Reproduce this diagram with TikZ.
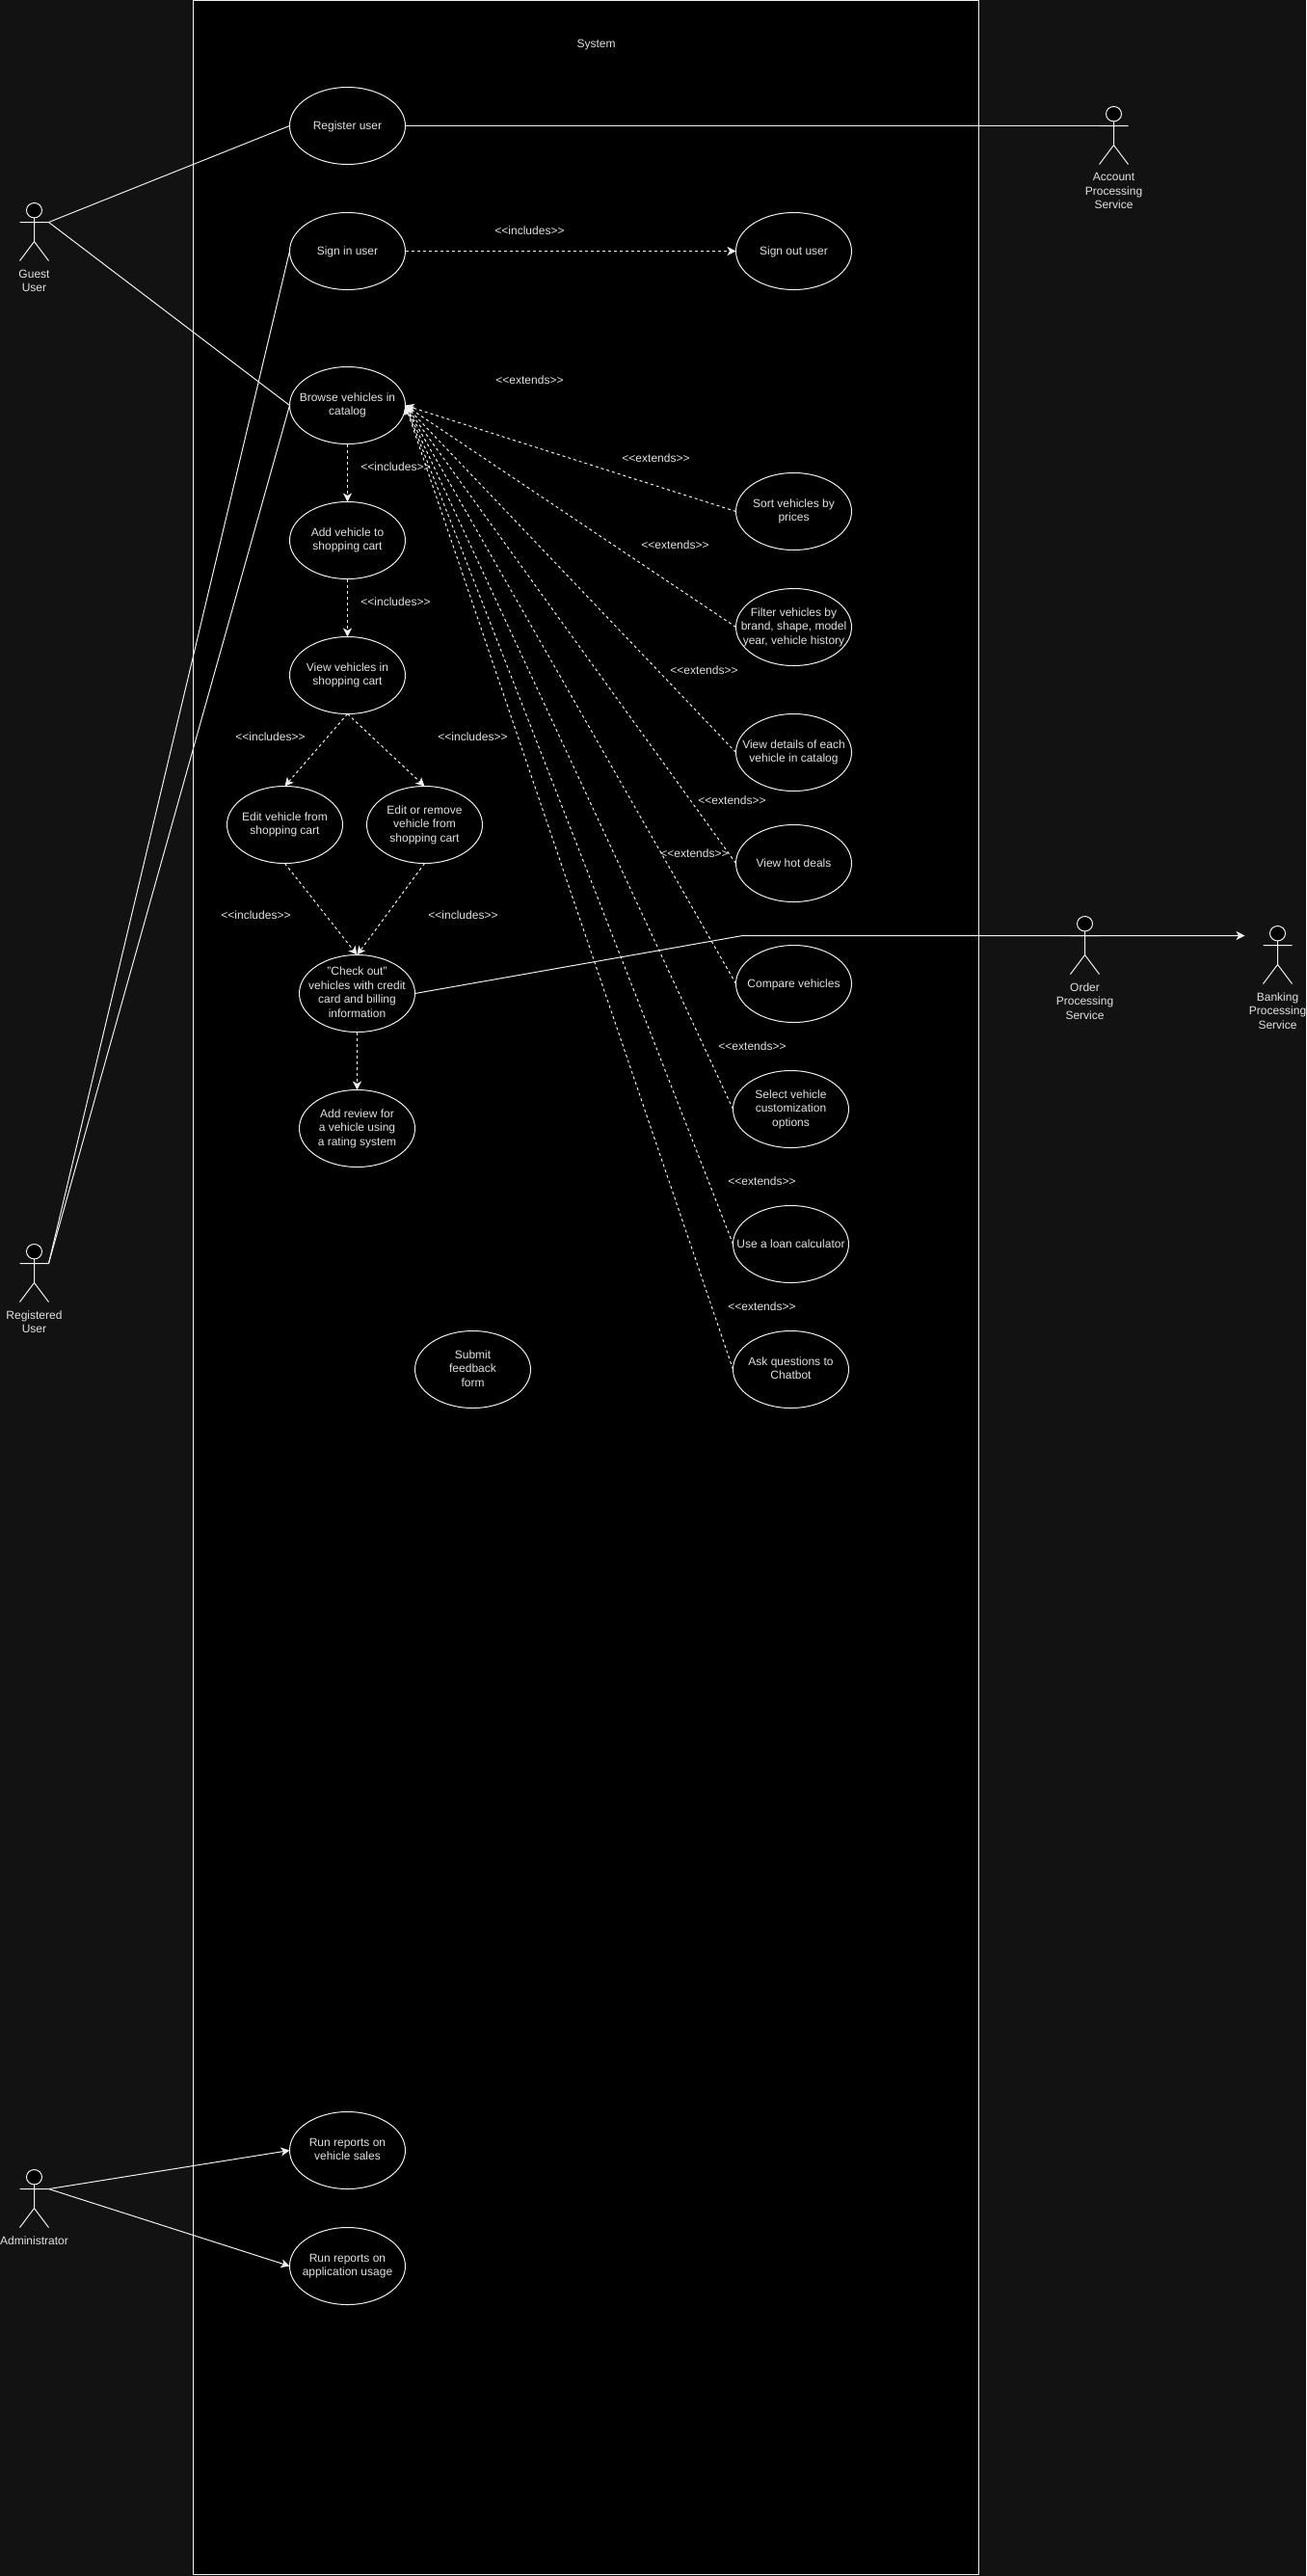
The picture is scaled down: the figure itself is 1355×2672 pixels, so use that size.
\documentclass[tikz,border=0pt]{standalone}
\usepackage{fontspec}
\setmainfont{Liberation Sans}
\usetikzlibrary{shapes.geometric,arrows.meta}
\definecolor{pagebg}{RGB}{18,18,18}
\definecolor{ink}{RGB}{240,240,240}
\definecolor{txt}{RGB}{225,225,225}
\newcommand{\linestrut}{\rule[-2.5pt]{0pt}{13pt}}
\tikzset{
  usecase/.style={ellipse,draw=ink,line width=1pt,minimum width=120pt,minimum height=80pt,inner xsep=-35pt,inner ysep=-20pt,outer sep=0pt,align=center,text=txt,font=\fontsize{12}{14.5}\selectfont,execute at begin node=\linestrut,execute at end node=\linestrut},
  relabel/.style={text=txt,font=\fontsize{12}{14.5}\selectfont,inner sep=0pt,execute at begin node=\linestrut},
  actorname/.style={anchor=north,text=txt,align=center,font=\fontsize{12}{14.5}\selectfont,inner sep=0pt},
  assoc/.style={draw=ink,line width=1pt},
  assocarrow/.style={assoc,-{Stealth[length=9pt,width=9pt,inset=2.5pt]}},
  deparrow/.style={draw=ink,line width=1pt,dash pattern=on 3pt off 3pt,-{Stealth[length=9pt,width=9pt,inset=2.5pt]}},
}
\newcommand{\umlactor}[5]{%
  \begin{scope}[shift={(#2,#3)}]
    \draw[ink,line width=1pt,fill=black] (0,7.7) ellipse [x radius=8,y radius=7.7];
    \draw[ink,line width=1pt] (0,15.4) -- (0,40) (-15,20) -- (15,20) (-15,60) -- (0,40) -- (15,60);
    \coordinate (#1L) at (-15,20);
    \coordinate (#1R) at (15,20);
    \node[actorname] (#1) at (0,#4) {#5};
  \end{scope}}
\begin{document}
\begin{tikzpicture}[x=1pt,y=-1pt,shift={(0.5,0.5)}]
\useasboundingbox (-0.5,-0.5) rectangle (1354.5,2671.5);
\fill[pagebg] (-0.5,-0.5) rectangle (1354.5,2671.5);
\filldraw[fill=black,draw=ink,line width=1pt] (200,0) rectangle (1015,2670);
\node[relabel] (systemlabel) at (618,45) {System};

\node[usecase] (register) at (360,130) {Register user};
\node[usecase] (signin) at (360,260) {Sign in user};
\node[usecase] (signout) at (823,260) {Sign out user};
\node[usecase] (browse) at (360,420) {Browse vehicles in\\catalog};
\node[usecase] (addcart) at (360,560) {Add vehicle to\\shopping cart};
\node[usecase] (viewcart) at (360,700) {View vehicles in\\shopping cart};
\node[usecase] (editcart) at (295,855) {Edit vehicle from\\shopping cart};
\node[usecase] (removecart) at (440,855) {Edit or remove\\vehicle from\\shopping cart};
\node[usecase] (checkout) at (370,1030) {"Check out"\\vehicles with credit\\card and billing\\information};
\node[usecase] (review) at (370,1170) {Add review for\\a vehicle using\\a rating system};
\node[usecase] (feedback) at (490,1420) {Submit\\feedback\\form};
\node[usecase] (sortv) at (823,530) {Sort vehicles by\\prices};
\node[usecase] (filterv) at (823,650) {Filter vehicles by\\brand, shape, model\\year, vehicle history};
\node[usecase] (details) at (823,780) {View details of each\\vehicle in catalog};
\node[usecase] (hotdeals) at (823,895) {View hot deals};
\node[usecase] (compare) at (823,1020) {Compare vehicles};
\node[usecase] (custom) at (820,1150) {Select vehicle\\customization\\options};
\node[usecase] (loan) at (820,1290) {Use a loan calculator};
\node[usecase] (chatbot) at (820,1420) {Ask questions to\\Chatbot};
\node[usecase] (sales) at (360,2230) {Run reports on\\vehicle sales};
\node[usecase] (usage) at (360,2350) {Run reports on\\application usage};

\umlactor{guest}{35}{210}{69}{Guest\\User}
\umlactor{registered}{35}{1290}{69}{Registered\\User}
\umlactor{admin}{35}{2250}{69}{Administrator}
\umlactor{account}{1155}{110}{69}{Account\\Processing\\Service}
\umlactor{order}{1125}{950}{69}{Order\\Processing\\Service}
\umlactor{banking}{1325}{960}{69}{Banking\\Processing\\Service}

\draw[assoc] (guestR) -- (register.west);
\draw[assoc] (guestR) -- (browse.west);
\draw[assoc] (registeredR) -- (signin.west);
\draw[assoc] (registeredR) -- (browse.west);
\draw[assoc] (register.east) -- (accountL);
\draw[assocarrow] (adminR) -- (sales.west);
\draw[assocarrow] (adminR) -- (usage.west);
\coordinate (checkoutbend) at (770,970);
\coordinate (bankingin) at (1291,970);
\draw[assocarrow] (checkout.east) -- (checkoutbend) -- (bankingin);

\draw[deparrow] (signin.east) -- (signout.west);
\draw[deparrow] (browse.south) -- (addcart.north);
\draw[deparrow] (addcart.south) -- (viewcart.north);
\draw[deparrow] (viewcart.south) -- (editcart.north);
\draw[deparrow] (viewcart.south) -- (removecart.north);
\draw[deparrow] (editcart.south) -- (checkout.north);
\draw[deparrow] (removecart.south) -- (checkout.north);
\draw[deparrow] (checkout.south) -- (review.north);
\draw[deparrow] (sortv.west) -- (browse.east);
\draw[deparrow] (filterv.west) -- (browse.east);
\draw[deparrow] (details.west) -- (browse.east);
\draw[deparrow] (hotdeals.west) -- (browse.east);
\draw[deparrow] (compare.west) -- (browse.east);
\draw[deparrow] (custom.west) -- (browse.east);
\draw[deparrow] (loan.west) -- (browse.east);
\draw[deparrow] (chatbot.west) -- (browse.east);

\node[relabel] (inc1) at (549,239) {<{}<includes>{}>};
\node[relabel] (inc2) at (410,484) {<{}<includes>{}>};
\node[relabel] (inc3) at (410,624) {<{}<includes>{}>};
\node[relabel] (inc4) at (280,764) {<{}<includes>{}>};
\node[relabel] (inc5) at (490,764) {<{}<includes>{}>};
\node[relabel] (inc6) at (265,949) {<{}<includes>{}>};
\node[relabel] (inc7) at (480,949) {<{}<includes>{}>};
\node[relabel] (ext0) at (549,394) {<{}<extends>{}>};
\node[relabel] (ext1) at (680,475) {<{}<extends>{}>};
\node[relabel] (ext2) at (700,565) {<{}<extends>{}>};
\node[relabel] (ext3) at (730,695) {<{}<extends>{}>};
\node[relabel] (ext4) at (759,830) {<{}<extends>{}>};
\node[relabel] (ext5) at (720,885) {<{}<extends>{}>};
\node[relabel] (ext6) at (780,1085) {<{}<extends>{}>};
\node[relabel] (ext7) at (790,1225) {<{}<extends>{}>};
\node[relabel] (ext8) at (790,1355) {<{}<extends>{}>};
\end{tikzpicture}
\end{document}
